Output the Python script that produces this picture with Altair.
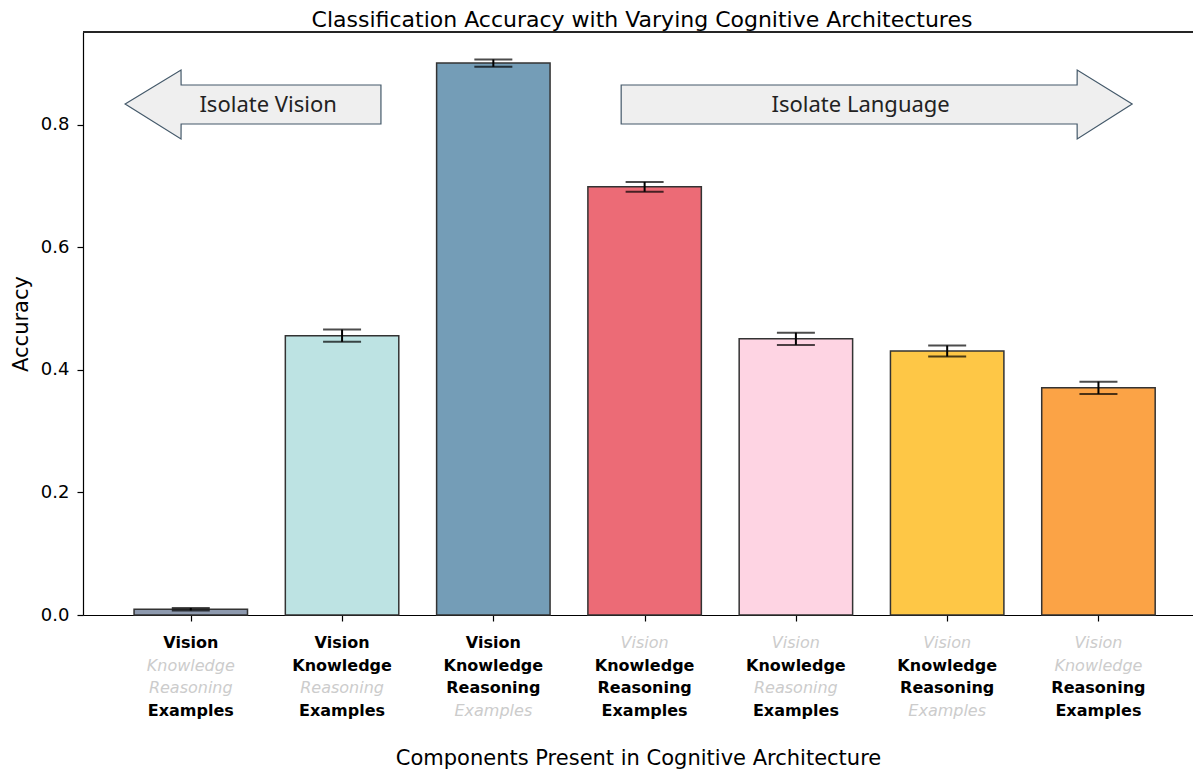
import altair as alt
import pandas as pd

# ---- data ----
bar_index = [0, 1, 2, 3, 4, 5, 6]
accuracy = [0.0095, 0.456, 0.901, 0.699, 0.451, 0.431, 0.371]
error = [0.002, 0.010, 0.006, 0.008, 0.010, 0.009, 0.010]
bar_colors = ["#8d99ae", "#bde3e3", "#749db7", "#ec6b76", "#fed4e3", "#fec746", "#fba346"]

components = ["Vision", "Knowledge", "Reasoning", "Examples"]
present = [
    [1, 0, 0, 1],
    [1, 1, 0, 1],
    [1, 1, 1, 0],
    [0, 1, 1, 1],
    [0, 1, 0, 1],
    [0, 1, 1, 0],
    [0, 0, 1, 1],
]

# annotation arrows (data units: x = bar index, y = accuracy), outline points in x order
left_arrow_x = [-0.434, -0.0645, -0.064, 1.257]
left_arrow_top = [0.8343, 0.8898, 0.8653, 0.8653]
left_arrow_bottom = [0.8343, 0.7771, 0.8016, 0.8016]
right_arrow_x = [2.845, 5.859, 5.8595, 6.223]
right_arrow_top = [0.8653, 0.8653, 0.8898, 0.8343]
right_arrow_bottom = [0.8016, 0.8016, 0.7771, 0.8343]
arrow_labels = ["Isolate Vision", "Isolate Language"]
arrow_label_x = [0.511, 4.428]
arrow_label_y = [0.834, 0.834]

title_text = "Classification Accuracy with Varying Cognitive Architectures"
x_title = "Components Present in Cognitive Architecture"
y_title = "Accuracy"

# ---- tables ----
bars = pd.DataFrame({"idx": bar_index, "acc": accuracy, "err": error})
bars["lo"] = bars["acc"] - bars["err"]
bars["hi"] = bars["acc"] + bars["err"]

arrows = pd.concat([
    pd.DataFrame({"arrow": "left", "x": left_arrow_x,
                  "top": left_arrow_top, "bottom": left_arrow_bottom}),
    pd.DataFrame({"arrow": "right", "x": right_arrow_x,
                  "top": right_arrow_top, "bottom": right_arrow_bottom}),
])
arrow_text = pd.DataFrame({"label": arrow_labels, "x": arrow_label_x, "y": arrow_label_y})

W, H = 1110, 583
FONT = "DejaVu Sans"

xscale = alt.Scale(domain=[-0.7125, 6.625], nice=False, zero=False)
yscale = alt.Scale(domain=[0, 0.9518], nice=False)

base = alt.Chart(bars)

bar_layer = base.transform_calculate(
    x0="datum.idx - 0.375", x1="datum.idx + 0.375"
).mark_bar(stroke="#333333", strokeWidth=1.5, opacity=1).encode(
    x=alt.X("x0:Q", scale=xscale,
            axis=alt.Axis(values=bar_index, labels=False, tickSize=6, tickWidth=1.2,
                          tickColor="black", domainColor="black", domainWidth=1.2,
                          grid=False, title=x_title, titleFont=FONT, titleFontSize=21,
                          titleFontWeight="normal", titleColor="black",
                          titleBaseline="alphabetic", titlePadding=143)),
    x2="x1:Q",
    y=alt.Y("acc:Q", scale=yscale,
            axis=alt.Axis(values=[0, 0.2, 0.4, 0.6, 0.8], format=".1f", grid=False,
                          tickSize=6, tickWidth=1.2, tickColor="black",
                          domainColor="black", domainWidth=1.2,
                          labelFont=FONT, labelFontSize=18, labelColor="black",
                          labelPadding=8, title=y_title, titleFont=FONT,
                          titleFontSize=21, titleFontWeight="normal",
                          titleColor="black", titlePadding=9)),
    y2=alt.datum(0),
    color=alt.Color("idx:N", scale=alt.Scale(domain=bar_index, range=bar_colors), legend=None),
)

err_rule = base.mark_rule(color="black", strokeWidth=2).encode(
    x=alt.X("idx:Q", scale=xscale), y=alt.Y("lo:Q", scale=yscale), y2="hi:Q")
cap_lo = base.mark_tick(color="black", orient="horizontal", size=38, thickness=2).encode(
    x=alt.X("idx:Q", scale=xscale), y=alt.Y("lo:Q", scale=yscale))
cap_hi = base.mark_tick(color="black", orient="horizontal", size=38, thickness=2).encode(
    x=alt.X("idx:Q", scale=xscale), y=alt.Y("hi:Q", scale=yscale))

arrow_layer = alt.Chart(arrows).mark_area(
    orient="vertical", fill="#efefef", stroke="#44596a", strokeWidth=1.2,
    interpolate="linear", opacity=1
).encode(
    x=alt.X("x:Q", scale=xscale),
    y=alt.Y("top:Q", scale=yscale, stack=None),
    y2="bottom:Q",
    detail="arrow:N",
)
arrow_label_layer = alt.Chart(arrow_text).mark_text(
    font="Noto Sans", fontSize=22, color="#222222", baseline="middle", align="center", dy=1
).encode(x=alt.X("x:Q", scale=xscale), y=alt.Y("y:Q", scale=yscale), text="label:N")

top_rule = alt.Chart(bars).mark_rule(color="#262626", strokeWidth=1.6).encode(
    x=alt.value(0), x2=alt.value(W), y=alt.value(0))

title_layer = alt.Chart(pd.DataFrame({"t": [title_text]})).mark_text(
    font=FONT, fontSize=22, color="black", baseline="alphabetic", align="center"
).encode(x=alt.value(559), y=alt.value(-5), text="t:N")

label_layers = []
for r, comp in enumerate(components):
    rows = pd.DataFrame({"idx": bar_index, "comp": comp,
                         "present": [present[i][r] for i in bar_index]})
    ypx = 616.4 + 22.4 * r
    label_layers.append(
        alt.Chart(rows).transform_filter("datum.present == 1").mark_text(
            font=FONT, fontSize=16, fontWeight="bold", color="black",
            baseline="alphabetic", align="center"
        ).encode(x=alt.X("idx:Q", scale=xscale), y=alt.value(ypx), text="comp:N"))
    label_layers.append(
        alt.Chart(rows).transform_filter("datum.present == 0").mark_text(
            font=FONT, fontSize=16, fontStyle="italic", color="#cccccc",
            baseline="alphabetic", align="center"
        ).encode(x=alt.X("idx:Q", scale=xscale), y=alt.value(ypx), text="comp:N"))

chart = alt.layer(
    arrow_layer, bar_layer, err_rule, cap_lo, cap_hi, arrow_label_layer, top_rule,
    title_layer, *label_layers
).properties(
    width=W, height=H,
    padding={"left": 75, "top": 24, "right": 0, "bottom": 154},
    autosize=alt.AutoSizeParams(type="none"),
).configure_view(stroke=None).configure(font=FONT)

chart.save("out.html", embed_options={"renderer": "svg", "actions": False})
